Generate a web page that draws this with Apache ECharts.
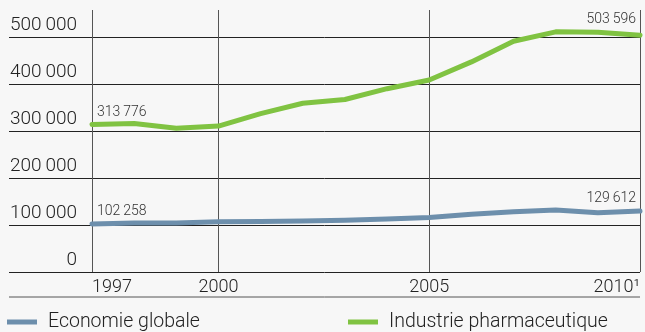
<!DOCTYPE html>
<html>
<head>
<meta charset="utf-8">
<script src="https://cdn.jsdelivr.net/npm/echarts@6/dist/echarts.min.js"></script>
<style>
  html, body { margin: 0; padding: 0; background: #f7f7f7; }
  #chart { width: 645px; height: 332px; }
</style>
</head>
<body>
<div id="chart"></div>
<script>
// data
var years = ['1997', '1998', '1999', '2000', '2001', '2002', '2003', '2004', '2005', '2006', '2007', '2008', '2009', '2010'];
var shownYears = ['1997', '2000', '2005', '2010'];
var yTicks = [0, 100000, 200000, 300000, 400000, 500000];
var globalEco = [102258, 104000, 104500, 107000, 107500, 108500, 110000, 113000, 116000, 123000, 128000, 132000, 126000, 129612];
var pharma = [313776, 316000, 306000, 310500, 337000, 359000, 367000, 390000, 408500, 447000, 491000, 511000, 510000, 503596];

var FONT = 'Roboto';
var plotTop = 10, gridTop = 37, plotBottom = 272, H = 332;
var tickMax = yTicks[yTicks.length - 1];
var dataMax = tickMax * (plotBottom - plotTop) / (plotBottom - gridTop);

function fmt(v) {
  return String(v).replace(/\B(?=(\d{3})+(?!\d))/g, '\u2009');
}

// only first and last point carry a value label
function withEndLabels(values, lastLift) {
  var last = values.length - 1;
  return values.map(function (v, i) {
    if (i === 0) return { value: v, label: { show: true, align: 'left', offset: [5, 0] } };
    if (i === last) return { value: v, label: { show: true, align: 'right', offset: [-4, -lastLift] } };
    return v;
  });
}

var catData = years.map(function (y, i) {
  if (i === 0) return { value: y, textStyle: { align: 'left' } };
  if (i === years.length - 1) return { value: y, textStyle: { align: 'right' } };
  return y;
});

function isShown(idx) {
  return shownYears.indexOf(years[idx]) >= 0;
}

var legendText = { fontSize: 19.5, fontWeight: 300, color: '#222', padding: [0, 0, 0, 6] };
var valueLabel = { position: 'top', fontSize: 14, fontWeight: 300, color: '#333', formatter: function (p) { return fmt(p.value); } };

var chart = echarts.init(document.getElementById('chart'));
chart.setOption({
  backgroundColor: '#f7f7f7',
  animation: false,
  textStyle: { fontFamily: FONT },
  grid: [
    { left: 9, right: 5, top: gridTop, bottom: H - plotBottom },
    { left: 92, right: 5, top: plotTop, bottom: H - plotBottom }
  ],
  legend: [
    {
      data: ['Economie globale'], left: 7, top: 312, padding: 0,
      icon: 'rect', itemWidth: 30, itemHeight: 5, textStyle: legendText
    },
    {
      data: ['Industrie pharmaceutique'], left: 348, top: 312, padding: 0,
      icon: 'rect', itemWidth: 30, itemHeight: 5, textStyle: legendText
    }
  ],
  xAxis: [
    { gridIndex: 0, type: 'value', show: false },
    {
      gridIndex: 1, type: 'category', data: catData, boundaryGap: false,
      axisLine: { show: false }, axisTick: { show: false },
      splitLine: {
        show: true,
        interval: function (idx) { return isShown(idx); },
        lineStyle: { color: '#555', width: 1 }
      },
      axisLabel: {
        interval: function (idx) { return isShown(idx); },
        formatter: function (v) { return v === '2010' ? '2010\u00b9' : v; },
        fontSize: 18, fontWeight: 300, color: '#222', margin: 6
      }
    }
  ],
  yAxis: [
    {
      gridIndex: 0, type: 'value', min: 0, max: tickMax, interval: 100000,
      axisLine: { show: false }, axisTick: { show: false },
      splitLine: { lineStyle: { color: '#222', width: 1 } },
      axisLabel: {
        inside: true, align: 'right', verticalAlign: 'bottom', margin: 68,
        fontSize: 19, fontWeight: 300, color: '#222', padding: [0, 0, 2, 0],
        formatter: fmt
      }
    },
    { gridIndex: 1, type: 'value', min: 0, max: dataMax, show: false }
  ],
  graphic: [
    { type: 'line', shape: { x1: 9, y1: 297, x2: 640, y2: 297 }, style: { stroke: '#555', lineWidth: 1 } }
  ],
  series: [
    {
      name: 'Economie globale', type: 'line', xAxisIndex: 1, yAxisIndex: 1,
      data: withEndLabels(globalEco, 0), symbol: 'circle', symbolSize: 1, showSymbol: true,
      color: '#6d8fac',
      lineStyle: { width: 5, cap: 'round', join: 'round' },
      label: valueLabel
    },
    {
      name: 'Industrie pharmaceutique', type: 'line', xAxisIndex: 1, yAxisIndex: 1,
      data: withEndLabels(pharma, 3), symbol: 'circle', symbolSize: 1, showSymbol: true,
      color: '#80c342',
      lineStyle: { width: 5, cap: 'round', join: 'round' },
      label: valueLabel
    }
  ]
});
</script>
</body>
</html>
